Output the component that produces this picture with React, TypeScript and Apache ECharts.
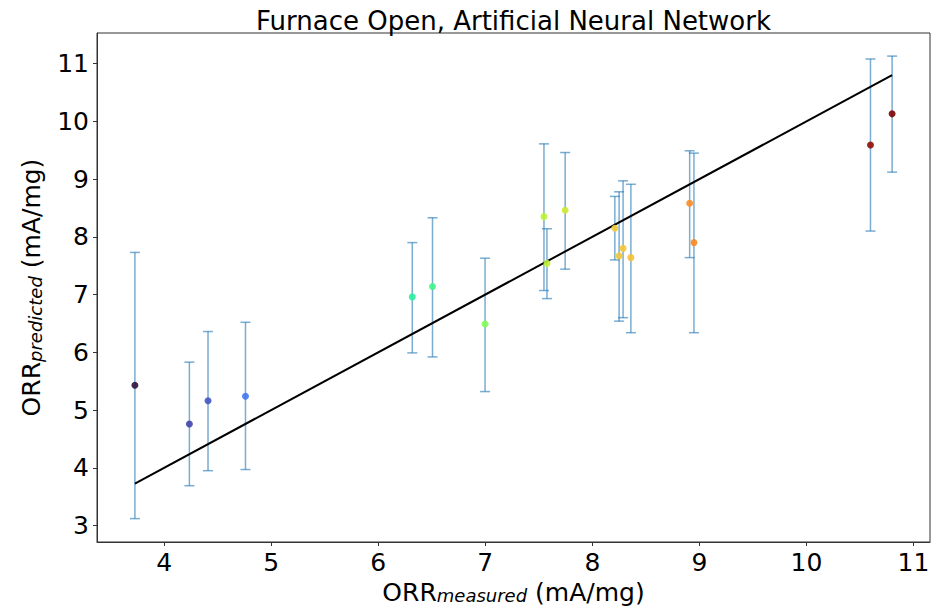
import React, { useEffect, useRef } from "react";
import * as echarts from "echarts";

const measured = [3.727, 4.236, 4.41, 4.76, 6.318, 6.507, 6.998, 7.548, 7.576, 7.746, 8.21, 8.25, 8.287, 8.36, 8.909, 8.949, 10.598, 10.8];
const predicted = [5.43, 4.76, 5.16, 5.24, 6.96, 7.14, 6.49, 8.35, 7.54, 8.46, 8.15, 7.67, 7.8, 7.64, 8.58, 7.9, 9.59, 10.13];
const errLow = [3.12, 3.69, 3.95, 3.97, 5.99, 5.92, 5.32, 7.07, 6.93, 7.44, 7.6, 6.54, 6.6, 6.34, 7.64, 6.34, 8.1, 9.12];
const errHigh = [7.73, 5.83, 6.36, 6.52, 7.9, 8.33, 7.63, 9.61, 8.14, 9.46, 8.7, 8.78, 8.97, 8.91, 9.49, 9.45, 11.08, 11.13];
const xTicks = [4, 5, 6, 7, 8, 9, 10, 11];
const yTicks = [3, 4, 5, 6, 7, 8, 9, 10, 11];
const turbo = ["#30123b", "#4145ab", "#4675ed", "#39a2fc", "#1bcfd4", "#24eca6", "#61fc6c", "#a4fc3b", "#d1e834", "#f3c63a", "#fe9b2d", "#f36315", "#d93806", "#b11901", "#7a0403"];

const FONT = "DejaVu Sans";

export default function App() {
  const ref = useRef<HTMLDivElement>(null);
  useEffect(() => {
    if (!ref.current) return;
    const chart = echarts.init(ref.current, null, { renderer: "svg" });
    const xMin = Math.min(...measured);
    const xMax = Math.max(...measured);
    const errData = measured.map((x, i) => [x, errLow[i], errHigh[i]]);
    const ptData = measured.map((x, i) => [x, predicted[i]]);
    const stroke = { stroke: "#1f77b4", lineWidth: 1.5, opacity: 0.6 };
    const nameRich = {
      a: { fontFamily: FONT, fontSize: 25, color: "#000" },
      b: { fontFamily: FONT, fontSize: 18, fontStyle: "italic", color: "#000", padding: [7, 0, 0, 0] },
    };
    const option: any = {
      animation: false,
      backgroundColor: "#fff",
      title: {
        text: "Furnace Open, Artificial Neural Network",
        left: 251,
        top: 3,
        textStyle: { fontFamily: FONT, fontSize: 26, fontWeight: "normal", color: "#000" },
      },
      grid: {
        left: 97,
        right: 18,
        top: 33,
        bottom: 65,
        show: true,
        borderColor: "#333",
        borderWidth: 1,
        outerBoundsMode: "none",
        containLabel: false,
      },
      visualMap: {
        show: false,
        type: "continuous",
        dimension: 0,
        seriesIndex: 2,
        min: xMin,
        max: xMax,
        inRange: { color: turbo },
      },
      xAxis: {
        type: "value",
        min: 3.373,
        max: 11.154,
        name: "{a|ORR}{b|measured}{a| (mA/mg)}",
        nameLocation: "middle",
        nameGap: 34,
        nameTextStyle: { rich: nameRich },
        splitLine: { show: false },
        axisLine: { show: true, onZero: false, lineStyle: { color: "#333" } },
        axisTick: { show: true, length: 4, customValues: xTicks, lineStyle: { color: "#333" } },
        axisLabel: { customValues: xTicks, fontFamily: FONT, fontSize: 25, color: "#000", margin: 8 },
      },
      yAxis: {
        type: "value",
        min: 2.715,
        max: 11.53,
        name: "{a|ORR}{b|predicted}{a| (mA/mg)}",
        nameLocation: "middle",
        nameGap: 53,
        nameTextStyle: { rich: nameRich },
        splitLine: { show: false },
        axisLine: { show: true, onZero: false, lineStyle: { color: "#333" } },
        axisTick: { show: true, length: 4, customValues: yTicks, lineStyle: { color: "#333" } },
        axisLabel: { customValues: yTicks, fontFamily: FONT, fontSize: 25, color: "#000", margin: 8 },
      },
      series: [
        {
          type: "custom",
          data: errData,
          z: 1,
          renderItem: (params: any, api: any) => {
            const x = api.value(0);
            const lo = api.value(1);
            const hi = api.value(2);
            const pTop = api.coord([x, hi]);
            const pBot = api.coord([x, lo]);
            const h = 5;
            return {
              type: "group",
              children: [
                { type: "line", shape: { x1: pTop[0], y1: pTop[1], x2: pBot[0], y2: pBot[1] }, style: stroke },
                { type: "line", shape: { x1: pTop[0] - h, y1: pTop[1], x2: pTop[0] + h, y2: pTop[1] }, style: stroke },
                { type: "line", shape: { x1: pBot[0] - h, y1: pBot[1], x2: pBot[0] + h, y2: pBot[1] }, style: stroke },
              ],
            };
          },
        },
        {
          type: "line",
          data: [[xMin, xMin], [xMax, xMax]],
          symbol: "none",
          z: 2,
          lineStyle: { color: "#000", width: 2 },
        },
        {
          type: "scatter",
          data: ptData,
          symbolSize: 7,
          z: 3,
          itemStyle: { opacity: 0.9 },
        },
      ],
    };
    chart.setOption(option);
    return () => chart.dispose();
  }, []);
  return <div ref={ref} style={{ position: "absolute", left: 0, top: 0, width: 948, height: 607 }} />;
}
